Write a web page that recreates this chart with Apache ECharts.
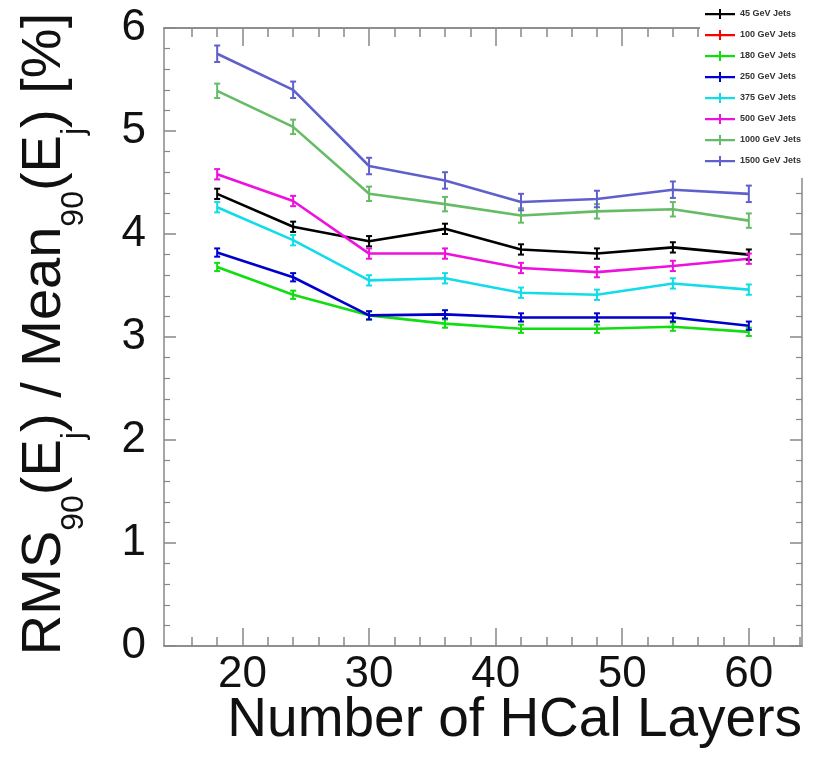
<!DOCTYPE html>
<html>
<head>
<meta charset="utf-8">
<title>Jet energy resolution vs HCal layers</title>
<script src="https://cdn.jsdelivr.net/npm/echarts@6/dist/echarts.min.js"></script>
<style>
  html, body { margin: 0; padding: 0; background: #fff; }
  #chart { width: 836px; height: 764px; }
</style>
</head>
<body>
<div id="chart"></div>
<script>
// number of HCal layers (x values)
var layers = [18, 24, 30, 36, 42, 48, 54, 60];

// RMS90 / Mean90 [%] per jet energy
var jets45   = [4.39, 4.07, 3.93, 4.05, 3.85, 3.81, 3.87, 3.80];
var jets100  = [];   // in legend, no visible line in the picture
var jets180  = [3.68, 3.41, 3.21, 3.13, 3.08, 3.08, 3.10, 3.05];
var jets250  = [3.82, 3.58, 3.21, 3.22, 3.19, 3.19, 3.19, 3.11];
var jets375  = [4.26, 3.94, 3.55, 3.57, 3.43, 3.41, 3.52, 3.46];
var jets500  = [4.58, 4.32, 3.81, 3.81, 3.67, 3.63, 3.69, 3.76];
var jets1000 = [5.39, 5.04, 4.39, 4.29, 4.18, 4.22, 4.24, 4.13];
var jets1500 = [5.75, 5.40, 4.66, 4.52, 4.31, 4.34, 4.43, 4.39];

// half length of the error bars
var jetErrors = [0.05, 0.05, 0.04, 0.04, 0.05, 0.05, 0.07, 0.08];

var jetNames = ['45 GeV Jets', '100 GeV Jets', '180 GeV Jets', '250 GeV Jets',
                '375 GeV Jets', '500 GeV Jets', '1000 GeV Jets', '1500 GeV Jets'];
var jetValues = [jets45, jets100, jets180, jets250, jets375, jets500, jets1000, jets1500];
var jetColors = ['#000000', '#ff0000', '#11dd11', '#0000cc',
                 '#11dde8', '#ee11dd', '#66bb66', '#6060cc'];

// tick labels
var xMajor = [20, 30, 40, 50, 60];
var xMinor = [16, 18, 22, 24, 26, 28, 32, 34, 36, 38, 42, 44, 46, 48, 52, 54, 56, 58, 62, 64];

var FONT = '"Liberation Sans", Arial, Helvetica, sans-serif';
var FRAME = '#888';

var chart = echarts.init(document.getElementById('chart'));

// vertical error bar with small caps
function errorBar(params, api) {
  var x = api.value(0), y = api.value(1), e = api.value(2);
  var hi = api.coord([x, y + e]);
  var lo = api.coord([x, y - e]);
  var st = { stroke: api.visual('color'), lineWidth: 2 };
  return {
    type: 'group',
    children: [
      { type: 'line', shape: { x1: hi[0], y1: hi[1], x2: lo[0], y2: lo[1] }, style: st },
      { type: 'line', shape: { x1: hi[0] - 3, y1: hi[1], x2: hi[0] + 3, y2: hi[1] }, style: st },
      { type: 'line', shape: { x1: lo[0] - 3, y1: lo[1], x2: lo[0] + 3, y2: lo[1] }, style: st }
    ]
  };
}

var series = [];
jetNames.forEach(function (name, i) {
  var pts = jetValues[i].map(function (v, k) { return [layers[k], v]; });
  series.push({
    name: name,
    type: 'line',
    color: jetColors[i],
    data: pts,
    showSymbol: false,
    symbol: 'none',
    lineStyle: { width: 2.6, color: jetColors[i] },
    z: 3
  });
  series.push({
    name: name + ' err',
    type: 'custom',
    color: jetColors[i],
    itemStyle: { color: jetColors[i] },
    renderItem: errorBar,
    encode: { x: 0, y: 1 },
    data: jetValues[i].map(function (v, k) { return [layers[k], v, jetErrors[i]]; }),
    z: 4
  });
});

function xAxisCfg(pos, ticks, len, labels) {
  return {
    type: 'value', position: pos, min: 13.8, max: 64.2,
    axisLine: { show: true, onZero: false, lineStyle: { color: FRAME, width: 1.5 } },
    axisTick: { show: true, inside: true, length: len, customValues: ticks,
                lineStyle: { color: FRAME, width: 1.5 } },
    axisLabel: labels ? { show: true, customValues: xMajor, fontSize: 44, color: '#111',
                          fontFamily: FONT, margin: 7 } : { show: false },
    splitLine: { show: false }
  };
}

function yAxisCfg(pos, labels) {
  return {
    type: 'value', position: pos, min: 0, max: 6, interval: 1,
    axisLine: { show: true, onZero: false, lineStyle: { color: FRAME, width: 1.5 } },
    axisTick: { show: true, inside: true, length: 12, lineStyle: { color: FRAME, width: 1.5 } },
    minorTick: { show: true, splitNumber: 5, length: 6, lineStyle: { color: FRAME, width: 1.2 } },
    axisLabel: labels ? { show: true, fontSize: 44, color: '#111', fontFamily: FONT, margin: 18 }
                      : { show: false },
    splitLine: { show: false }
  };
}

chart.setOption({
  animation: false,
  backgroundColor: '#fff',
  grid: { left: 164, right: 34, top: 28, bottom: 118 },
  xAxis: [
    xAxisCfg('bottom', xMajor, 18, true),
    xAxisCfg('bottom', xMinor, 9, false),
    xAxisCfg('top', xMajor, 18, false),
    xAxisCfg('top', xMinor, 9, false)
  ],
  yAxis: [
    yAxisCfg('left', true),
    yAxisCfg('right', false)
  ],
  legend: {
    data: jetNames,
    orient: 'vertical',
    left: 700, top: 0,
    padding: [9, 6, 12, 5],
    backgroundColor: '#fff',
    itemWidth: 30, itemHeight: 10, itemGap: 11,
    icon: 'path://M0,4L30,4L30,6.2L0,6.2Z M14,0L16,0L16,10L14,10Z',
    itemStyle: { borderWidth: 0 },
    selectedMode: false,
    textStyle: { fontSize: 9, fontWeight: 'bold', color: '#333', fontFamily: FONT },
    z: 10
  },
  graphic: [
    {
      type: 'text', x: 48, y: 334, rotation: Math.PI / 2,
      style: {
        text: '{b|RMS}{s|90}{b|(E}{s|j}{b|) / Mean}{s|90}{b|(E}{s|j}{b|) [%]}',
        align: 'center', verticalAlign: 'middle',
        rich: {
          b: { fontSize: 56, fontFamily: FONT, fill: '#111', lineHeight: 62, verticalAlign: 'top' },
          s: { fontSize: 32, fontFamily: FONT, fill: '#111', lineHeight: 33, verticalAlign: 'top',
               padding: [41, 0, 0, 0] }
        }
      }
    },
    {
      type: 'text', x: 802, y: 721,
      style: {
        text: 'Number of HCal Layers', align: 'right', verticalAlign: 'middle',
        fontSize: 55, fontFamily: FONT, fill: '#111'
      }
    }
  ],
  series: series
});
</script>
</body>
</html>
